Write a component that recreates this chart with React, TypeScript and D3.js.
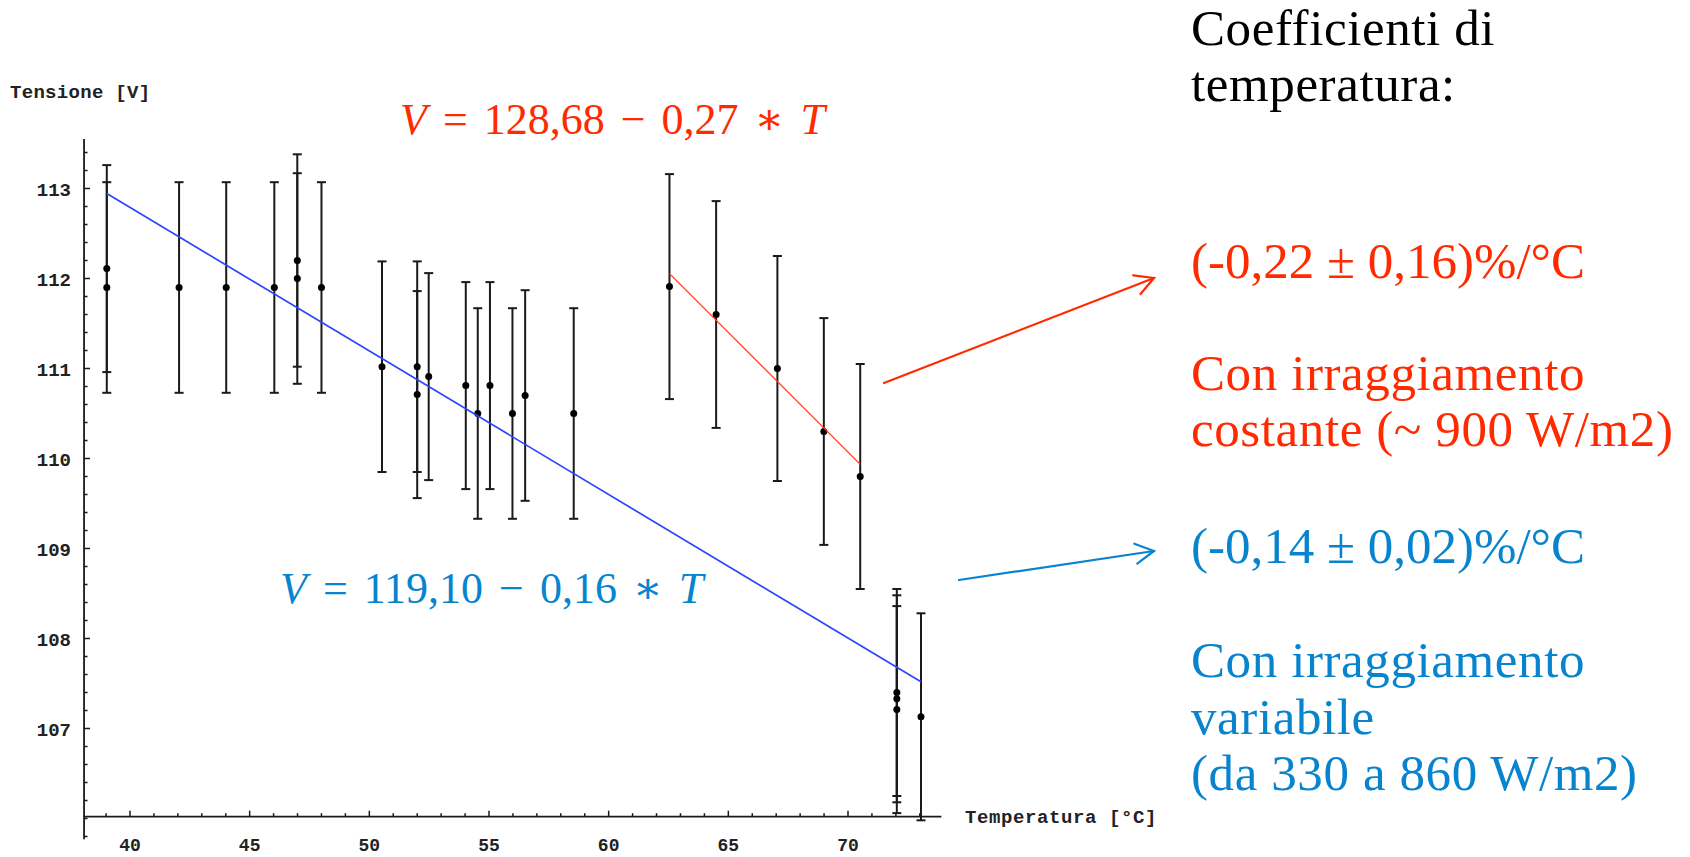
import React from "react";
import * as d3 from "d3";

// ---- data ----
// Variable irradiance series (blue fit)
const blueT = [39.03, 39.03, 42.05, 44.02, 46.03, 46.99, 46.99, 48.0, 50.53, 52.0, 52.0, 52.48, 54.03, 54.53, 55.04, 55.98, 56.51, 58.54, 72.04, 72.04, 72.04, 73.05];
const blueV = [112.11, 111.9, 111.9, 111.9, 111.9, 112.2, 112.0, 111.9, 111.02, 111.02, 110.71, 110.91, 110.81, 110.5, 110.81, 110.5, 110.7, 110.5, 107.4, 107.33, 107.21, 107.13];
const blueErr = [1.15, 1.17, 1.17, 1.17, 1.17, 1.18, 1.17, 1.17, 1.17, 1.17, 1.15, 1.15, 1.15, 1.17, 1.15, 1.17, 1.17, 1.17, 1.15, 1.15, 1.15, 1.15];

// Constant irradiance series (red fit)
const redT = [62.54, 64.49, 67.05, 68.99, 70.51];
const redV = [111.91, 111.6, 111.0, 110.3, 109.8];
const redErr = [1.25, 1.26, 1.25, 1.26, 1.25];

// Fits: [intercept, slope], drawn over [from, to]
const blueFitCoef = [119.17, -0.1595];
const blueFitRange = [39.03, 73.05];
const redFitCoef = [128.69, -0.266];
const redFitRange = [62.54, 70.51];

// Axis ticks
const xTickLabels = [40, 45, 50, 55, 60, 65, 70];
const yTickLabels = [107, 108, 109, 110, 111, 112, 113];
const xMinorTicks = d3.range(39, 74);
const yMinorTicks = d3.range(529, 568).map((d) => d / 5);
const axisCross = { T: 38.08, V: 106.02 };
const axisEnds = { Tmax: 73.9, Vmax: 113.55, Vmin: 105.77 };

// Texts
const yAxisTitle = "Tensione [V]";
const xAxisTitle = "Temperatura [°C]";
const redEq = ["V", " = 128,68 − 0,27 ∗ ", "T"];
const blueEq = ["V", " = 119,10 − 0,16 ∗ ", "T"];
const headLines = ["Coefficienti di", "temperatura:"];
const redLines = ["(-0,22 ± 0,16)%/°C", "Con irraggiamento", "costante (~ 900 W/m2)"];
const blueLines = ["(-0,14 ± 0,02)%/°C", "Con irraggiamento", "variabile", "(da 330 a 860 W/m2)"];

const RED = "#ff2a00";
const BLUE_TXT = "#0884cf";
const BLUE_LINE = "#2b46ff";
const RED_LINE = "#ff3a1a";
const AX = "#1a1a1a";

export default function App() {
  const W = 1690;
  const H = 857;
  const x = d3.scaleLinear().domain([40, 70]).range([130, 848]);
  const y = d3.scaleLinear().domain([107, 113]).range([728.5, 188.5]);

  const x0 = x(axisCross.T);
  const y0 = y(axisCross.V);

  const fitPath = (coef: number[], range: number[]) =>
    d3
      .line<number>()
      .x((t) => x(t))
      .y((t) => y(coef[0] + coef[1] * t))(range) as string;

  const mono = "'Liberation Mono', 'DejaVu Sans Mono', monospace";
  const serif = "'Liberation Serif', 'DejaVu Serif', serif";

  const errBars = (T: number[], V: number[], E: number[], key: string) =>
    T.map((t, i) => {
      const cx = x(t);
      const top = y(V[i] + E[i]);
      const bot = y(V[i] - E[i]);
      return (
        <g key={key + i} stroke={AX} strokeWidth={2}>
          <line x1={cx} x2={cx} y1={top} y2={bot} />
          <line x1={cx - 4.5} x2={cx + 4.5} y1={top} y2={top} />
          <line x1={cx - 4.5} x2={cx + 4.5} y1={bot} y2={bot} />
        </g>
      );
    });

  const dots = (T: number[], V: number[], key: string) =>
    T.map((t, i) => <circle key={key + i} cx={x(t)} cy={y(V[i])} r={3.5} fill="#000" />);

  const arrow = (x1: number, y1: number, x2: number, y2: number, color: string) => {
    const a = Math.atan2(y2 - y1, x2 - x1);
    const L = 21;
    const s = 0.5;
    const p1 = [x2 - L * Math.cos(a - s), y2 - L * Math.sin(a - s)];
    const p2 = [x2 - L * Math.cos(a + s), y2 - L * Math.sin(a + s)];
    return (
      <g stroke={color} strokeWidth={2.2} fill="none" strokeLinecap="round">
        <line x1={x1} y1={y1} x2={x2} y2={y2} />
        <polyline points={`${p1[0]},${p1[1]} ${x2},${y2} ${p2[0]},${p2[1]}`} />
      </g>
    );
  };

  const rightX = 1191;
  const rightStyle = { fontFamily: serif, fontSize: 51, letterSpacing: 0.6 } as React.CSSProperties;
  const coefStyle = { fontFamily: serif, fontSize: 51, letterSpacing: 0 } as React.CSSProperties;

  return (
    <svg
      width={W}
      height={H}
      style={{ position: "absolute", left: 0, top: 0, background: "#fff" }}
    >
      <rect x={0} y={0} width={W} height={H} fill="#fff" />

      {/* axes */}
      <line x1={x0} x2={x(axisEnds.Tmax)} y1={y0} y2={y0} stroke={AX} strokeWidth={1.8} />
      <line x1={x0} x2={x0} y1={y(axisEnds.Vmax)} y2={y(axisEnds.Vmin)} stroke={AX} strokeWidth={1.8} />

      {xMinorTicks.map((t) => {
        const major = xTickLabels.includes(t);
        return (
          <line key={"xt" + t} x1={x(t)} x2={x(t)} y1={y0} y2={y0 - (major ? 6 : 3.5)} stroke={AX} strokeWidth={1.5} />
        );
      })}
      {yMinorTicks.map((v) => {
        const major = yTickLabels.includes(v);
        return (
          <line key={"yt" + v} x1={x0} x2={x0 + (major ? 6 : 3.5)} y1={y(v)} y2={y(v)} stroke={AX} strokeWidth={1.5} />
        );
      })}

      {xTickLabels.map((t) => (
        <text key={"xl" + t} x={x(t)} y={851} textAnchor="middle" fontFamily={mono} fontWeight="bold" fontSize={18} fill="#222">
          {t}
        </text>
      ))}
      {yTickLabels.map((v) => (
        <text key={"yl" + v} x={71} y={y(v) + 7} textAnchor="end" fontFamily={mono} fontWeight="bold" fontSize={19} fill="#222">
          {v}
        </text>
      ))}

      <text x={10} y={98} fontFamily={mono} fontWeight="bold" fontSize={19} fill="#222" letterSpacing={0.3}>
        {yAxisTitle}
      </text>
      <text x={965} y={823} fontFamily={mono} fontWeight="bold" fontSize={19} fill="#222" letterSpacing={0.6}>
        {xAxisTitle}
      </text>

      {/* error bars and points */}
      {errBars(blueT, blueV, blueErr, "be")}
      {errBars(redT, redV, redErr, "re")}
      {dots(blueT, blueV, "bd")}
      {dots(redT, redV, "rd")}

      {/* fit lines */}
      <path d={fitPath(blueFitCoef, blueFitRange)} stroke={BLUE_LINE} strokeWidth={1.7} fill="none" />
      <path d={fitPath(redFitCoef, redFitRange)} stroke={RED_LINE} strokeWidth={1.3} fill="none" />

      {/* equations */}
      <text x={400} y={134} fontFamily={serif} fontSize={44} fill={RED} style={{ wordSpacing: 5 }} xmlSpace="preserve">
        <tspan fontStyle="italic">{redEq[0]}</tspan>
        <tspan>{redEq[1]}</tspan>
        <tspan fontStyle="italic">{redEq[2]}</tspan>
      </text>
      <text x={280} y={603} fontFamily={serif} fontSize={44} fill={BLUE_TXT} style={{ wordSpacing: 5 }} xmlSpace="preserve">
        <tspan fontStyle="italic">{blueEq[0]}</tspan>
        <tspan>{blueEq[1]}</tspan>
        <tspan fontStyle="italic">{blueEq[2]}</tspan>
      </text>

      {/* arrows */}
      {arrow(884, 383, 1154, 278, RED)}
      {arrow(959, 580, 1154, 551, BLUE_TXT)}

      {/* right side text */}
      {headLines.map((s, i) => (
        <text key={"h" + i} x={rightX} y={45 + i * 56} style={rightStyle} fill="#000">
          {s}
        </text>
      ))}
      <text x={rightX} y={278} style={coefStyle} fill={RED}>
        {redLines[0]}
      </text>
      <text x={rightX} y={390} style={rightStyle} fill={RED}>
        {redLines[1]}
      </text>
      <text x={rightX} y={446} style={rightStyle} fill={RED}>
        {redLines[2]}
      </text>
      <text x={rightX} y={563} style={coefStyle} fill={BLUE_TXT}>
        {blueLines[0]}
      </text>
      {blueLines.slice(1).map((s, i) => (
        <text key={"bl" + i} x={rightX} y={677 + i * 56.5} style={rightStyle} fill={BLUE_TXT}>
          {s}
        </text>
      ))}
    </svg>
  );
}
